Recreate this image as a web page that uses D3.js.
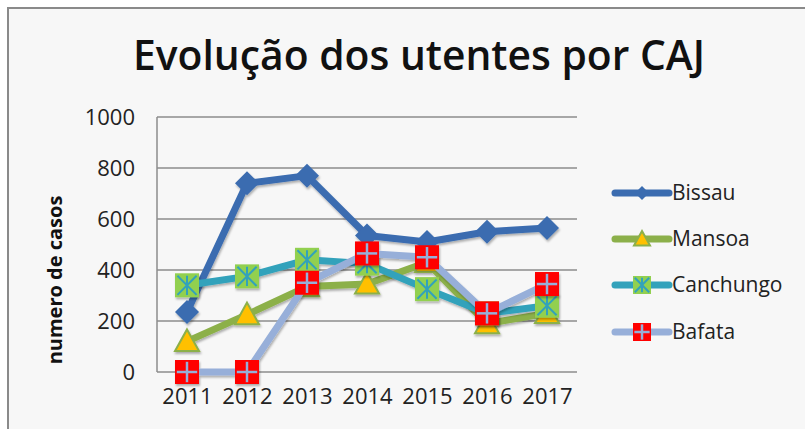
<!DOCTYPE html>
<html>
<head>
<meta charset="utf-8">
<title>Evolução dos utentes por CAJ</title>
<script src="https://d3js.org/d3.v7.min.js"></script>
<style>
  body { margin: 0; background: #fff; }
  svg { display: block; font-family: "Open Sans", sans-serif; }
</style>
</head>
<body>
<div id="chart"></div>
<script>
// data
const years = ["2011", "2012", "2013", "2014", "2015", "2016", "2017"];
const bissau = [235, 740, 770, 535, 510, 550, 565];
const mansoa = [120, 225, 335, 345, 430, 190, 230];
const canchungo = [340, 375, 440, 425, 325, 230, 260];
const bafata = [0, 0, 350, 465, 450, 230, 345];
const yTicks = [0, 200, 400, 600, 800, 1000];

const series = [
  { name: "Bissau", values: bissau, line: "#3b6cb0", marker: "diamond" },
  { name: "Mansoa", values: mansoa, line: "#8cb04a", marker: "triangle" },
  { name: "Canchungo", values: canchungo, line: "#33a2bb", marker: "star" },
  { name: "Bafata", values: bafata, line: "#97afd9", marker: "cross" }
];

const W = 805, H = 429;
const svg = d3.select("#chart").append("svg").attr("width", W).attr("height", H);

const defs = svg.append("defs");
const f = defs.append("filter").attr("id", "shadow").attr("x", "-20%").attr("y", "-20%").attr("width", "140%").attr("height", "140%");
f.append("feDropShadow").attr("dx", 1).attr("dy", 2).attr("stdDeviation", 1.2).attr("flood-color", "#000").attr("flood-opacity", 0.3);

// chart area frame
svg.append("rect").attr("x", 8).attr("y", 8).attr("width", W + 10).attr("height", H + 10)
  .attr("fill", "#f7f7f7").attr("stroke", "#8a8a8a").attr("stroke-width", 2);

// title
const title = svg.append("text").attr("x", 419).attr("y", 70).attr("text-anchor", "middle")
  .attr("font-weight", "600").attr("font-size", 40).attr("fill", "#111")
  .text("Evolução dos utentes por CAJ");
const tw = title.node().getComputedTextLength();
title.attr("font-size", 40 * 572 / tw);

const x = d3.scalePoint().domain(years).range([157, 577]).padding(0.5);
const y = d3.scaleLinear().domain([0, 1000]).range([372, 117]);

// gridlines
svg.append("g").selectAll("line").data(yTicks).join("line")
  .attr("x1", 157).attr("x2", 577)
  .attr("y1", d => y(d)).attr("y2", d => y(d))
  .attr("stroke", "#8c8c8c").attr("stroke-width", 1.5);
svg.append("line").attr("x1", 157).attr("x2", 157).attr("y1", y(1000)).attr("y2", y(0))
  .attr("stroke", "#8c8c8c").attr("stroke-width", 1.5);

// axes labels
const yAxis = svg.append("g").attr("transform", "translate(157,0)")
  .call(d3.axisLeft(y).tickValues(yTicks).tickFormat(d3.format("d")).tickSize(0).tickPadding(22));
yAxis.select(".domain").remove();
yAxis.selectAll("text").attr("font-size", 22).attr("fill", "#222").attr("font-family", "Open Sans, sans-serif");

const xAxis = svg.append("g").attr("transform", "translate(0,372)")
  .call(d3.axisBottom(x).tickSize(0).tickPadding(16));
xAxis.select(".domain").remove();
xAxis.selectAll("text").attr("font-size", 22).attr("fill", "#222").attr("font-family", "Open Sans, sans-serif");

svg.append("text").attr("transform", "translate(62,280) rotate(-90)")
  .attr("text-anchor", "middle").attr("font-weight", "bold").attr("font-size", 20).attr("fill", "#111")
  .text("numero de casos");

function drawMarker(g, type, color, s) {
  if (type === "diamond") {
    g.append("path").attr("d", `M0,${-s}L${s},0L0,${s}L${-s},0Z`).attr("fill", color);
  } else if (type === "triangle") {
    g.append("path").attr("d", `M0,${-s}L${s},${s * 0.8}L${-s},${s * 0.8}Z`)
      .attr("fill", "#ffc000").attr("stroke", color).attr("stroke-width", 2);
  } else if (type === "star") {
    g.append("rect").attr("x", -s).attr("y", -s).attr("width", 2 * s).attr("height", 2 * s).attr("fill", "#92d050");
    const k = s * 0.8;
    [[-k, -k, k, k], [-k, k, k, -k], [0, -k, 0, k]].forEach(p =>
      g.append("line").attr("x1", p[0]).attr("y1", p[1]).attr("x2", p[2]).attr("y2", p[3])
        .attr("stroke", color).attr("stroke-width", 2));
  } else {
    g.append("rect").attr("x", -s).attr("y", -s).attr("width", 2 * s).attr("height", 2 * s).attr("fill", "#ff0000");
    const k = s * 0.85;
    g.append("line").attr("x1", -k).attr("x2", k).attr("y1", 0).attr("y2", 0).attr("stroke", color).attr("stroke-width", 2.5);
    g.append("line").attr("y1", -k).attr("y2", k).attr("x1", 0).attr("x2", 0).attr("stroke", color).attr("stroke-width", 2.5);
  }
}

const line = d3.line().x((d, i) => x(years[i])).y(d => y(d));
const msize = { diamond: 12, triangle: 12, star: 12, cross: 12 };

series.forEach(s => {
  const g = svg.append("g").attr("filter", "url(#shadow)");
  g.append("path").datum(s.values).attr("d", line)
    .attr("fill", "none").attr("stroke", s.line).attr("stroke-width", 7).attr("stroke-linejoin", "round");
  s.values.forEach((v, i) => {
    const m = g.append("g").attr("transform", `translate(${x(years[i])},${y(v)})`);
    drawMarker(m, s.marker, s.line, msize[s.marker]);
  });
});

// legend
const legY = [193, 239, 285, 332];
series.forEach((s, i) => {
  const g = svg.append("g").attr("transform", `translate(0,${legY[i]})`);
  g.append("line").attr("x1", 615).attr("x2", 669).attr("y1", 0).attr("y2", 0)
    .attr("stroke", s.line).attr("stroke-width", 7).attr("stroke-linecap", "round");
  const m = g.append("g").attr("transform", "translate(642,0)");
  if (s.marker === "diamond") drawMarker(m, "diamond", s.line, 7);
  else drawMarker(m, s.marker, s.line, s.marker === "triangle" ? 8 : 9);
  g.append("text").attr("x", 672).attr("y", 0).attr("dy", "0.35em")
    .attr("font-size", 21).attr("fill", "#222").text(s.name);
});
</script>
</body>
</html>
